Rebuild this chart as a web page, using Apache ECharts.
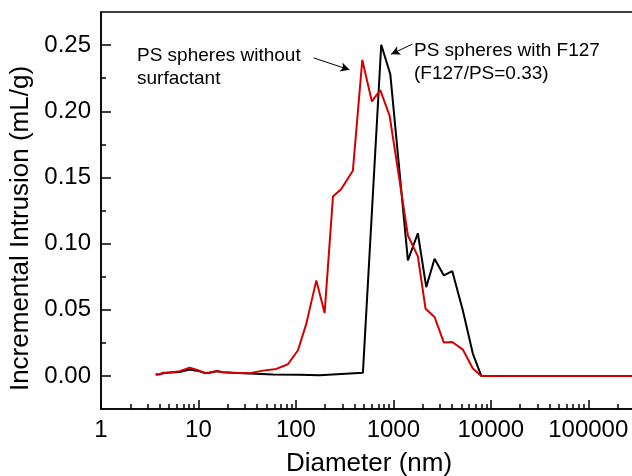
<!DOCTYPE html>
<html>
<head>
<meta charset="utf-8">
<script src="https://cdn.jsdelivr.net/npm/echarts@6/dist/echarts.min.js"></script>
<style>
  html, body { margin: 0; background: #fff; }
  #chart { width: 632px; height: 476px; }
</style>
</head>
<body>
<div id="chart"></div>
<script>
// diameters (nm) and incremental intrusion (mL/g)
const redX = [3.64, 4.0, 4.33, 5.07, 6.42, 8.12, 9.89, 11.6, 13.0, 15.5, 17.8, 22.6, 33.5, 45.9, 63, 82.8,
  105, 128, 162, 197, 240, 292, 384, 480, 602, 734, 915, 1158, 1410, 1784, 2138, 2646, 3297, 4019,
  5164, 6536, 7980, 316000];
const redY = [0.001, 0.0013, 0.0023, 0.0026, 0.0035, 0.0063, 0.0043, 0.0023, 0.0026, 0.0038, 0.0028, 0.0023,
  0.002, 0.004, 0.0053, 0.0088, 0.0194, 0.0395, 0.0722, 0.0475, 0.1355, 0.1413, 0.155, 0.2388, 0.2074,
  0.216, 0.1966, 0.1476, 0.1061, 0.0903, 0.0508, 0.0445, 0.0252, 0.0256, 0.0199, 0.0056, 0, 0];

const blackX = [3.64, 4.0, 4.33, 5.07, 6.42, 8.12, 9.89, 11.6, 13.0, 15.5, 17.8, 22.6, 33.5, 58, 109, 175,
  487, 751, 930, 1410, 1784, 2175, 2646, 3297, 4019, 5164, 6536, 7980, 316000];
const blackY = [0.001, 0.0013, 0.002, 0.0026, 0.003, 0.0048, 0.0038, 0.0022, 0.0024, 0.0035, 0.0028, 0.0024,
  0.0018, 0.001, 0.0008, 0.0005, 0.0023, 0.2502, 0.228, 0.0873, 0.1078, 0.0671, 0.0885, 0.0759, 0.0792,
  0.0495, 0.0169, 0, 0];

const xTicks = [1, 10, 100, 1000, 10000, 100000];
const xMinorTicks = [];
[1, 10, 100, 1000, 10000, 100000].forEach((d) => {
  for (let k = 2; k <= 9; k++) if (d * k < 316228) xMinorTicks.push(d * k);
});
const yTicks = [0, 0.05, 0.1, 0.15, 0.2, 0.25];
const yMinorTicks = [0.025, 0.075, 0.125, 0.175, 0.225];

const font = '"Liberation Sans", Arial, sans-serif';
const zip = (xs, ys) => xs.map((x, i) => [x, ys[i]]);

const chart = echarts.init(document.getElementById("chart"));
const axisLine = { show: true, onZero: false, lineStyle: { color: "#000", width: 1.5 } };

const option = {
  backgroundColor: "#fff",
  animation: false,
  grid: {
    left: 101,
    right: -5,
    top: 12,
    bottom: 67,
    show: true,
    borderColor: "#000",
    borderWidth: 1.5,
    containLabel: false,
    outerBoundsMode: "none",
  },
  xAxis: [
    {
      type: "log",
      logBase: 10,
      min: 1,
      max: 316228,
      position: "bottom",
      name: "Diameter (nm)",
      nameLocation: "middle",
      nameGap: 42,
      nameTextStyle: { fontSize: 26, color: "#000", fontFamily: font },
      axisLine: axisLine,
      axisTick: { inside: true, length: 9, customValues: xTicks, lineStyle: { color: "#000", width: 1.5 } },
      axisLabel: {
        customValues: xTicks,
        formatter: (v) => String(Math.round(v)),
        fontSize: 24,
        color: "#000",
        fontFamily: font,
        margin: 9,
      },
      splitLine: { show: false },
      minorTick: { show: false },
    },
    {
      type: "log",
      logBase: 10,
      min: 1,
      max: 316228,
      position: "bottom",
      axisLine: { show: false, onZero: false },
      axisTick: { inside: true, length: 5, customValues: xMinorTicks, lineStyle: { color: "#000", width: 1.5 } },
      axisLabel: { show: false },
      splitLine: { show: false },
    },
  ],
  yAxis: [
    {
      type: "value",
      min: -0.025,
      max: 0.275,
      position: "left",
      name: "Incremental Intrusion (mL/g)",
      nameLocation: "middle",
      nameGap: 66,
      nameRotate: 90,
      nameTextStyle: { fontSize: 26, color: "#000", fontFamily: font, padding: [0, 36, 0, 0] },
      axisLine: axisLine,
      axisTick: { inside: true, length: 10, customValues: yTicks, lineStyle: { color: "#000", width: 1.5 } },
      axisLabel: {
        customValues: yTicks,
        formatter: (v) => v.toFixed(2),
        fontSize: 24,
        color: "#000",
        fontFamily: font,
        margin: 10,
      },
      splitLine: { show: false },
    },
    {
      type: "value",
      min: -0.025,
      max: 0.275,
      position: "left",
      axisLine: { show: false, onZero: false },
      axisTick: { inside: true, length: 5, customValues: yMinorTicks, lineStyle: { color: "#000", width: 1.5 } },
      axisLabel: { show: false },
      splitLine: { show: false },
    },
  ],
  series: [
    {
      name: "PS spheres with F127",
      type: "line",
      data: zip(blackX, blackY),
      symbol: "none",
      lineStyle: { color: "#000", width: 2 },
      itemStyle: { color: "#000" },
      z: 2,
      markLine: {
        silent: true,
        symbol: ["none", "arrow"],
        symbolSize: [7, 9],
        label: { show: false },
        lineStyle: { color: "#000", width: 1, type: "solid" },
        data: [[{ coord: [1563, 0.2507] }, { coord: [947, 0.2431] }]],
      },
    },
    {
      name: "PS spheres without surfactant",
      type: "line",
      data: zip(redX, redY),
      symbol: "none",
      lineStyle: { color: "#d40000", width: 2 },
      itemStyle: { color: "#d40000" },
      z: 3,
      markLine: {
        silent: true,
        symbol: ["none", "arrow"],
        symbolSize: [7, 9],
        label: { show: false },
        lineStyle: { color: "#000", width: 1, type: "solid" },
        data: [[{ coord: [152, 0.2403] }, { coord: [355, 0.2313] }]],
      },
    },
  ],
  graphic: [
    {
      type: "text",
      left: 137,
      top: 44,
      style: { text: "PS spheres without\nsurfactant", font: "19px " + font, fill: "#000", lineHeight: 23 },
    },
    {
      type: "text",
      left: 414,
      top: 39,
      style: { text: "PS spheres with F127\n(F127/PS=0.33)", font: "19px " + font, fill: "#000", lineHeight: 23 },
    },
  ],
};

chart.setOption(option);
</script>
</body>
</html>
